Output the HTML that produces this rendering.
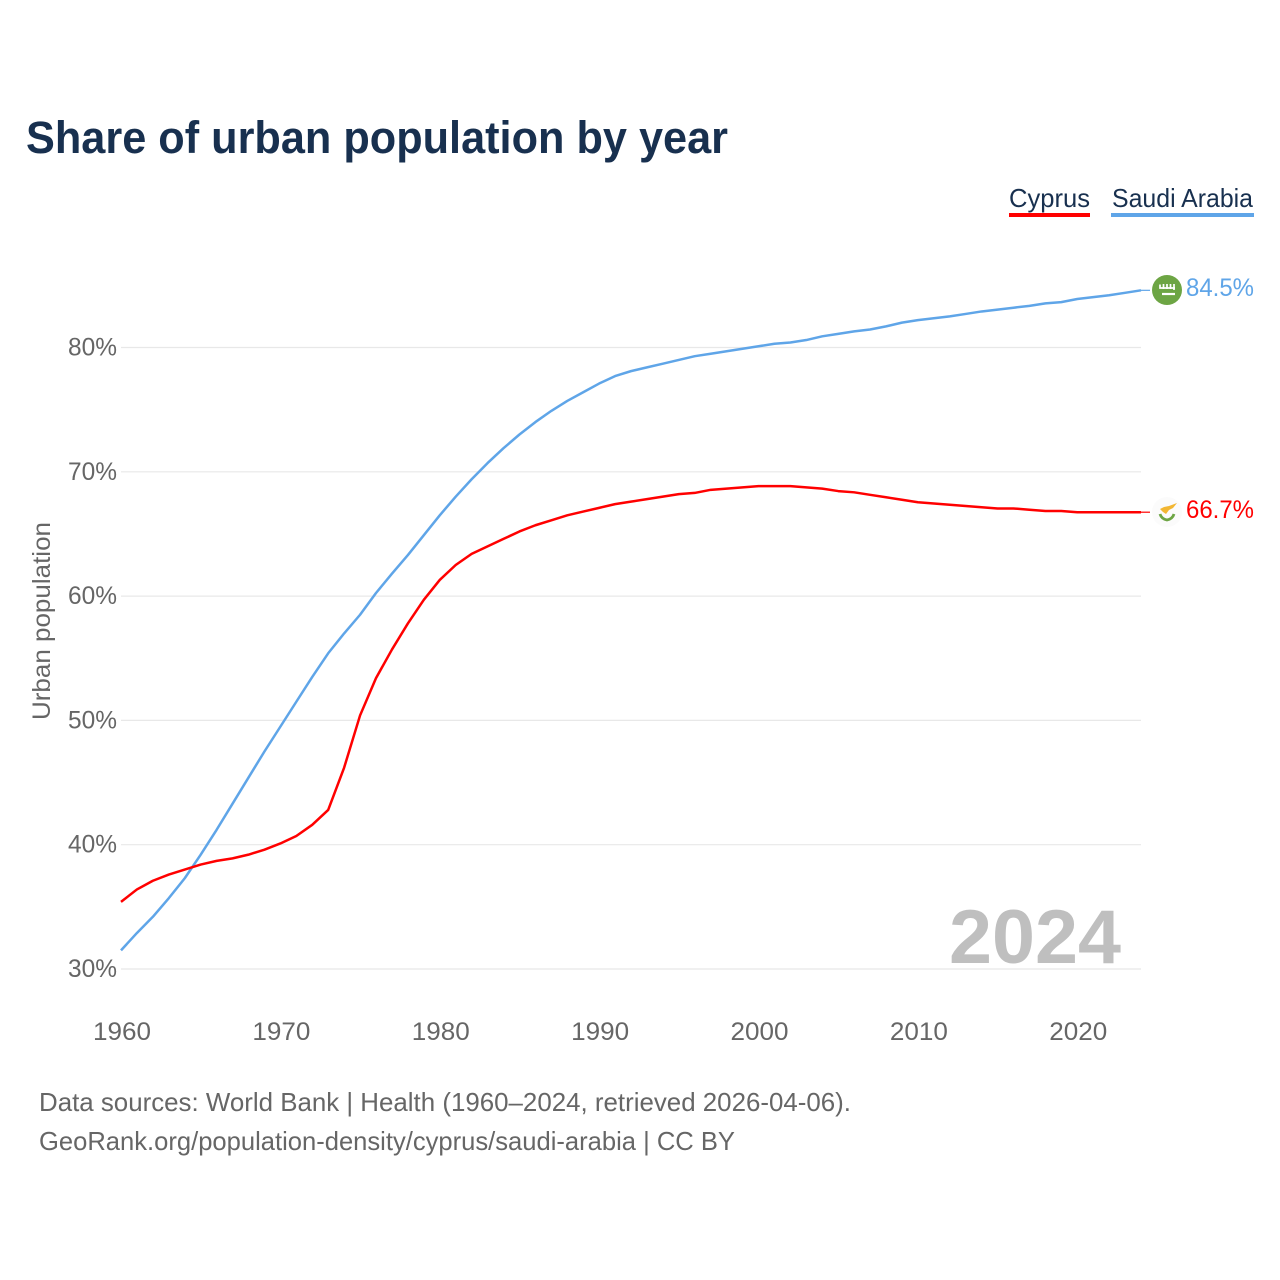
<!DOCTYPE html>
<html lang="en">
<head>
<meta charset="utf-8">
<title>Share of urban population by year</title>
<style>
html,body{margin:0;padding:0;background:#fff;width:1280px;height:1280px;overflow:hidden}
svg{display:block}
text{font-family:"Liberation Sans",sans-serif}
</style>
</head>
<body>
<svg id="chart" width="1280" height="1280" viewBox="0 0 1280 1280" xmlns="http://www.w3.org/2000/svg">
  <rect width="1280" height="1280" fill="#fff"/>
  <text x="26" y="153" font-size="45" font-weight="700" fill="#18304f" textLength="702" lengthAdjust="spacingAndGlyphs">Share of urban population by year</text>

  <g>
    <text x="1009" y="207" font-size="26" fill="#18304f" textLength="81" lengthAdjust="spacingAndGlyphs">Cyprus</text>
    <rect x="1009" y="213" width="81" height="4" fill="#ff0000"/>
  </g>
  <g>
    <text x="1112" y="207" font-size="26" fill="#18304f" textLength="141" lengthAdjust="spacingAndGlyphs">Saudi Arabia</text>
    <rect x="1111" y="213" width="143" height="4" fill="#5fa5e8"/>
  </g>

  <g id="grid"></g>
  <g id="yticks"></g>
  <g id="xticks"></g>
  <text transform="translate(50,621) rotate(-90)" text-anchor="middle" font-size="25" fill="#666" textLength="198" lengthAdjust="spacingAndGlyphs">Urban population</text>

  <text x="1121" y="963" text-anchor="end" font-size="76" font-weight="700" fill="#bfbfbf" textLength="172" lengthAdjust="spacingAndGlyphs">2024</text>

  <g id="series"></g>

  <g>
    <circle cx="1167" cy="290" r="15" fill="#6da544"/>
    <path d="M1160 284.500v3.500h15M1163.500 284v5M1167 284v5M1170.500 284v5M1174 284v6" stroke="#fff" stroke-width="1.700" fill="none"/>
    <path d="M1162 294h13" stroke="#fff" stroke-width="2.200" fill="none"/>
  </g>
  <g>
    <circle cx="1167" cy="512" r="15" fill="#fbfbfb"/>
    <path d="M1160 509l4-2 5-1 8-3-4 5-4 2-3 4-3-2z" fill="#f2b632"/>
    <path d="M1160 514q1.500 5 7 6q5.500-1 7-6" stroke="#6da544" stroke-width="2.800" fill="none"/>
  </g>

  <text id="label-saudi" x="1186" y="296" font-size="25" fill="#5fa5e8" textLength="68" lengthAdjust="spacingAndGlyphs"></text>
  <text id="label-cyprus" x="1186" y="518" font-size="25" fill="#ff0000" textLength="68" lengthAdjust="spacingAndGlyphs"></text>

  <text x="39" y="1111" font-size="26" fill="#666" textLength="812" lengthAdjust="spacingAndGlyphs">Data sources: World Bank | Health (1960–2024, retrieved 2026-04-06).</text>
  <text x="39" y="1150" font-size="26" fill="#666" textLength="696" lengthAdjust="spacingAndGlyphs">GeoRank.org/population-density/cyprus/saudi-arabia | CC BY</text>
</svg>
<script>
const firstYear = 1960;
const yTickValues = [30, 40, 50, 60, 70, 80];
const xTickValues = [1960, 1970, 1980, 1990, 2000, 2010, 2020];
const cyprusValues = [35.4,36.4,37.1,37.6,38.0,38.4,38.7,38.9,39.2,39.6,40.1,40.7,41.6,42.8,46.2,50.4,53.4,55.7,57.8,59.7,61.3,62.5,63.4,64.0,64.6,65.2,65.7,66.1,66.5,66.8,67.1,67.4,67.6,67.8,68.0,68.2,68.3,68.55,68.65,68.75,68.85,68.85,68.85,68.75,68.65,68.45,68.35,68.15,67.95,67.75,67.55,67.45,67.35,67.25,67.15,67.05,67.05,66.95,66.85,66.85,66.75,66.75,66.75,66.75,66.75];
const saudiValues = [31.5,32.9,34.2,35.7,37.3,39.2,41.2,43.3,45.4,47.5,49.5,51.5,53.5,55.4,57.0,58.5,60.25,61.8,63.3,64.9,66.5,68.0,69.4,70.7,71.9,73.0,74.0,74.9,75.7,76.4,77.1,77.7,78.1,78.4,78.7,79.0,79.3,79.5,79.7,79.9,80.1,80.3,80.4,80.6,80.9,81.1,81.3,81.45,81.7,82.0,82.2,82.35,82.5,82.7,82.9,83.05,83.2,83.35,83.55,83.65,83.9,84.05,84.2,84.4,84.6];
const cyprusLabel = "66.7%";
const saudiLabel = "84.5%";

const NS = "http://www.w3.org/2000/svg";
const xLeft = 121, xRight = 1141, yBottom = 969, yTop = 347.5;
const xScale = function (year) { return xLeft + (year - 1960) * (xRight - xLeft) / 64; };
const yScale = function (v) { return yBottom - (v - 30) * (yBottom - yTop) / 50; };

function make(tag, attrs, text) {
  const el = document.createElementNS(NS, tag);
  for (const k in attrs) el.setAttribute(k, attrs[k]);
  if (text !== undefined) el.textContent = text;
  return el;
}

const grid = document.getElementById("grid");
const yticks = document.getElementById("yticks");
yTickValues.forEach(function (v) {
  const line = make("line", {x1: xLeft, x2: xRight, y1: yScale(v), y2: yScale(v), stroke: "#e8e8e8", "stroke-width": 1.2});
  
  
  grid.appendChild(line);
  const label = make("text", {x: 117, y: yScale(v) + 8, "text-anchor": "end", "font-size": 25, fill: "#666", textLength: 49, lengthAdjust: "spacingAndGlyphs"}, v + "%");
  
  
  yticks.appendChild(label);
});

const xticks = document.getElementById("xticks");
xTickValues.forEach(function (y) {
  const label = make("text", {x: xScale(y) + 1, y: 1040, "text-anchor": "middle", "font-size": 25, fill: "#666", textLength: 58, lengthAdjust: "spacingAndGlyphs"}, String(y));
  
  
  xticks.appendChild(label);
});

function drawSeries(values, color, name) {
  const g = document.getElementById("series");
  const pts = values.map(function (v, i) { return xScale(firstYear + i).toFixed(2) + "," + yScale(v).toFixed(2); });
  const last = values[values.length - 1];
  const path = make("polyline", {points: pts.join(" "), fill: "none", stroke: color, "stroke-width": 2.5, "stroke-linejoin": "round"});
  
  
  g.appendChild(path);
  const conn = make("line", {x1: xRight, x2: 1150, y1: yScale(last), y2: yScale(last), stroke: color, "stroke-width": 1.2});
  
  
  g.appendChild(conn);
}
drawSeries(saudiValues, "#5fa5e8", "line-saudi-arabia");
drawSeries(cyprusValues, "#ff0000", "line-cyprus");

document.getElementById("label-saudi").textContent = saudiLabel;
document.getElementById("label-cyprus").textContent = cyprusLabel;
</script>
</body>
</html>
